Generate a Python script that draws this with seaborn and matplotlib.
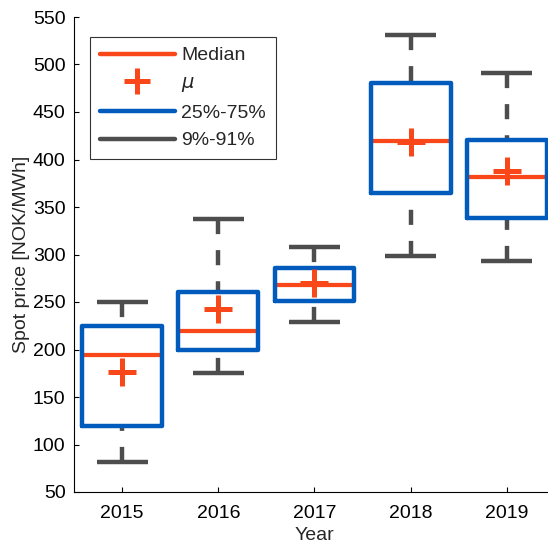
import matplotlib
matplotlib.use("Agg")
import matplotlib.pyplot as plt
from matplotlib.lines import Line2D
import seaborn as sns
import pandas as pd

# ---- data ----
years = [2015, 2016, 2017, 2018, 2019]
p09 = [81.6, 175.5, 229.0, 298.0, 293.0]
p25 = [119.6, 199.0, 251.5, 365.0, 338.0]
median = [194.5, 220.0, 268.0, 420.0, 382.0]
mean = [176.6, 243.0, 270.5, 418.0, 387.5]
p75 = [225.0, 261.0, 286.0, 481.0, 421.0]
p91 = [250.0, 337.0, 307.4, 531.0, 491.0]

ORANGE = "#F9471A"
BLUE = "#005BBD"
GRAY = "#4D4D4D"
LW = 3.2

sns.set_theme(style="ticks")
plt.rcParams["font.family"] = ["Liberation Sans", "DejaVu Sans"]
plt.rcParams["mathtext.fontset"] = "dejavusans"

fig = plt.figure(figsize=(5.48, 5.49), dpi=100)
W, H = 548, 549
x0, x1 = 73.9, 555.1
y0, y1 = 492.0, 17.0
ax = fig.add_axes([x0 / W, 1 - y0 / H, (x1 - x0) / W, (y0 - y1) / H])

stats = []
for i, yr in enumerate(years):
    stats.append(dict(med=median[i], q1=p25[i], q3=p75[i],
                      whislo=p09[i], whishi=p91[i], fliers=[], label=str(yr)))

ax.bxp(stats, positions=years, widths=0.83, capwidths=0.53,
       showfliers=False, patch_artist=False,
       boxprops=dict(color=BLUE, linewidth=LW, zorder=4),
       medianprops=dict(color=ORANGE, linewidth=LW * 0.95, zorder=3,
                        solid_capstyle="butt"),
       whiskerprops=dict(linestyle="none"),
       capprops=dict(color=GRAY, linewidth=LW, zorder=3, solid_capstyle="butt"),
       manage_ticks=False)

# dashed whiskers drawn from the cap toward the box
for i, yr in enumerate(years):
    for a, b in ((p91[i], p75[i]), (p09[i], p25[i])):
        ax.plot([yr, yr], [a, b], color=GRAY, linewidth=LW,
                linestyle=(0, (3.4, 3.6)), dash_capstyle="butt", zorder=2)

df = pd.DataFrame({"year": years, "mean": mean})
sns.scatterplot(data=df, x="year", y="mean", marker="+", s=380,
                color=ORANGE, linewidth=3.6, zorder=5, legend=False, ax=ax)

ax.set_xlim(2014.5, 2019.5)
ax.set_ylim(50, 550)
ax.set_xticks(years)
ax.set_xticklabels([str(y) for y in years])
ax.set_yticks(range(50, 551, 50))
ax.tick_params(direction="in", length=3.6, width=0.8, labelsize=14,
               colors="black")
ax.tick_params(axis="x", pad=9)
ax.tick_params(axis="y", pad=6)
for s in ("top", "right"):
    ax.spines[s].set_visible(False)
for s in ("left", "bottom"):
    ax.spines[s].set_linewidth(0.8)
    ax.spines[s].set_color("black")
ax.set_xlabel("Year", fontsize=14, labelpad=4)
ax.set_ylabel("Spot price [NOK/MWh]", fontsize=14, labelpad=2)

handles = [
    Line2D([], [], color=ORANGE, linewidth=LW),
    Line2D([], [], color=ORANGE, linestyle="none", marker="+",
           markersize=19, markeredgewidth=3.6),
    Line2D([], [], color=BLUE, linewidth=LW),
    Line2D([], [], color=GRAY, linewidth=LW),
]
labels = ["Median", r"$\mu$", "25%-75%", "9%-91%"]
leg = ax.legend(handles, labels, loc="upper left",
                bbox_to_anchor=(90 / W, 1 - 37 / H), bbox_transform=fig.transFigure,
                fontsize=14, handlelength=3.85, handletextpad=0.35,
                labelspacing=0.52, borderpad=0.5, borderaxespad=0,
                frameon=True, fancybox=False, edgecolor="black")
leg.get_frame().set_linewidth(0.8)

fig.savefig("out.png", dpi=100)
